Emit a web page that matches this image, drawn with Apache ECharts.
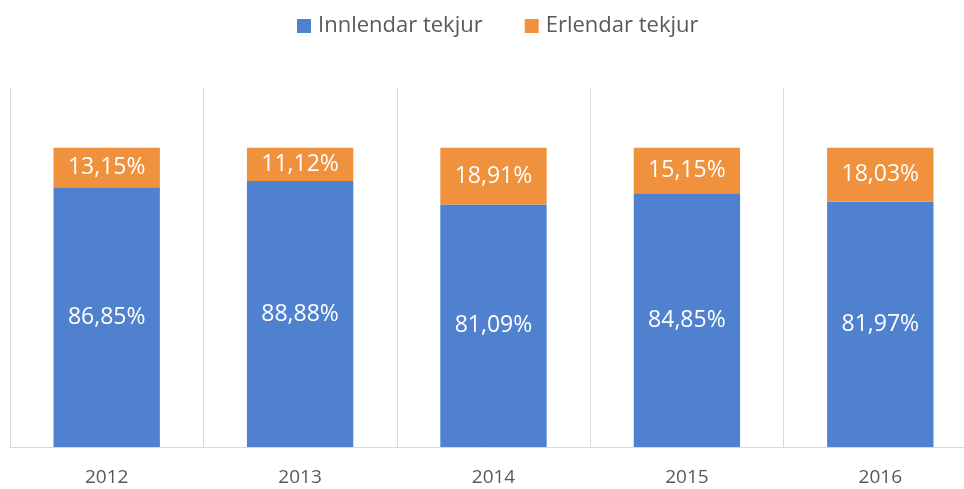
<!DOCTYPE html>
<html>
<head>
<meta charset="utf-8">
<script src="https://cdn.jsdelivr.net/npm/echarts@6/dist/echarts.min.js"></script>
<style>
  html, body { margin: 0; padding: 0; background: #fff; }
  #chart { width: 964px; height: 489px; }
</style>
</head>
<body>
<div id="chart"></div>
<script>
const years = ['2012', '2013', '2014', '2015', '2016']
const innlendar = [86.85, 88.88, 81.09, 84.85, 81.97]
const erlendar = [13.15, 11.12, 18.91, 15.15, 18.03]

const chart = echarts.init(document.getElementById('chart'))

const fmt = function (p) {
  return p.value.toFixed(2).replace('.', ',') + '%'
}

const option = {
  animation: false,
  textStyle: { fontFamily: 'Open Sans' },
  color: ['#5081CF', '#F0913D'],
  legend: {
    top: 10,
    left: 292,
    itemWidth: 14,
    itemHeight: 14,
    itemGap: 42,
    icon: 'rect',
    textStyle: { fontSize: 22, color: '#595959', fontFamily: 'Open Sans', padding: [0, 0, 0, 2] },
    data: ['Innlendar tekjur', 'Erlendar tekjur']
  },
  grid: {
    left: 10,
    right: -13,
    top: 88,
    bottom: 42,
    outerBoundsMode: 'none',
    containLabel: false
  },
  xAxis: {
    type: 'category',
    data: years,
    axisLine: { lineStyle: { color: '#d9d9d9', width: 1 } },
    axisTick: { show: false },
    axisLabel: { color: '#595959', fontSize: 19, margin: 21 },
    splitLine: { show: true, interval: 0, lineStyle: { color: '#d9d9d9', width: 1 } }
  },
  yAxis: {
    type: 'value',
    min: 0,
    max: 120,
    show: false,
    splitLine: { show: false }
  },
  series: [
    {
      name: 'Innlendar tekjur',
      type: 'bar',
      stack: 'total',
      barWidth: '55%',
      data: innlendar,
      label: { show: true, position: 'inside', color: '#fff', fontSize: 23, formatter: fmt }
    },
    {
      name: 'Erlendar tekjur',
      type: 'bar',
      stack: 'total',
      barWidth: '55%',
      data: erlendar,
      label: { show: true, position: 'inside', color: '#fff', fontSize: 23, formatter: fmt }
    }
  ]
}

chart.setOption(option)
</script>
</body>
</html>
